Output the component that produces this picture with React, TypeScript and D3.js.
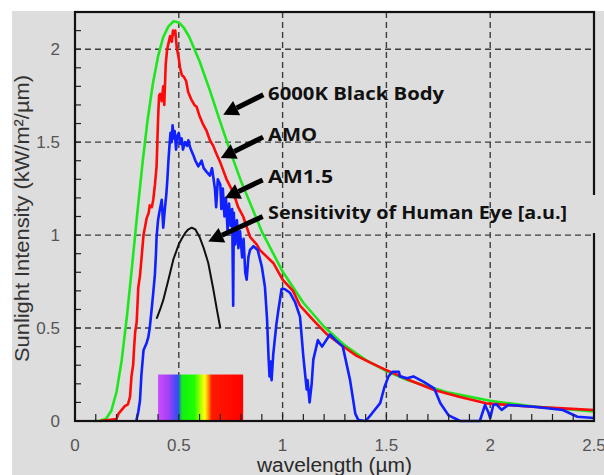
import React from "react";
import * as d3 from "d3";

// ---- data (wavelength in µm, intensity in kW/m²/µm) ----
const blackBody: [number, number][] = [
  [0.09, 0], [0.12, 0.001], [0.15, 0.012], [0.175, 0.055], [0.2, 0.156], [0.225, 0.327],
  [0.25, 0.562], [0.275, 0.835], [0.3, 1.117], [0.325, 1.385], [0.35, 1.622], [0.375, 1.814],
  [0.4, 1.961], [0.425, 2.065], [0.45, 2.123], [0.475, 2.15], [0.5, 2.144], [0.525, 2.114],
  [0.55, 2.067], [0.6, 1.935], [0.65, 1.777], [0.7, 1.608], [0.75, 1.444], [0.8, 1.289],
  [0.9, 1.019], [1.0, 0.804], [1.1, 0.636], [1.2, 0.507], [1.3, 0.4065], [1.4, 0.329],
  [1.5, 0.268], [1.6, 0.2205], [1.8, 0.1525], [2.0, 0.1085], [2.2, 0.079], [2.5, 0.051],
];

const am0: [number, number][] = [
  [0.12, 0], [0.15, 0.004], [0.2, 0.01], [0.21, 0.04], [0.225, 0.06], [0.24, 0.08], [0.255, 0.09],
  [0.265, 0.13], [0.272, 0.24], [0.28, 0.3], [0.285, 0.4], [0.29, 0.48], [0.297, 0.53],
  [0.305, 0.72], [0.313, 0.78], [0.32, 0.87], [0.33, 1.0], [0.34, 1.06], [0.345, 1.09],
  [0.355, 1.12], [0.36, 1.16], [0.37, 1.15], [0.377, 1.19], [0.385, 1.27], [0.393, 1.37],
  [0.4, 1.62], [0.405, 1.75], [0.41, 1.76], [0.418, 1.72], [0.425, 1.8], [0.43, 1.7],
  [0.437, 1.92], [0.444, 2.0], [0.45, 2.03], [0.458, 2.07], [0.466, 2.04], [0.472, 2.1],
  [0.477, 2.08], [0.483, 2.1], [0.49, 2.01], [0.5, 1.95], [0.506, 1.9], [0.515, 1.86],
  [0.525, 1.85], [0.535, 1.83], [0.545, 1.77], [0.56, 1.73], [0.575, 1.7], [0.586, 1.69],
  [0.6, 1.64], [0.615, 1.6], [0.634, 1.56], [0.65, 1.51], [0.666, 1.48], [0.68, 1.44],
  [0.7, 1.39], [0.73, 1.3], [0.762, 1.23], [0.786, 1.15], [0.81, 1.1], [0.843, 0.99],
  [0.875, 0.95], [0.89, 0.92], [0.955, 0.85], [1.0, 0.76], [1.05, 0.7], [1.084, 0.62],
  [1.15, 0.54], [1.21, 0.47], [1.28, 0.41], [1.357, 0.35], [1.43, 0.31], [1.5, 0.274],
  [1.6, 0.225], [1.73, 0.167], [1.85, 0.13], [1.98, 0.095], [2.1, 0.085], [2.2, 0.077],
  [2.35, 0.068], [2.5, 0.059],
];

const am15: [number, number][] = [
  [0.295, 0], [0.305, 0.05], [0.313, 0.11], [0.32, 0.25], [0.33, 0.38], [0.345, 0.42],
  [0.353, 0.45], [0.36, 0.5], [0.37, 0.61], [0.377, 0.69], [0.385, 0.79], [0.39, 0.9],
  [0.393, 0.99], [0.4, 1.08], [0.406, 1.12], [0.418, 1.19], [0.425, 1.04], [0.432, 1.13],
  [0.44, 1.22], [0.445, 1.3], [0.45, 1.4], [0.455, 1.48], [0.46, 1.55], [0.466, 1.5],
  [0.47, 1.59], [0.476, 1.52], [0.48, 1.56], [0.487, 1.46], [0.492, 1.53], [0.5, 1.55],
  [0.507, 1.49], [0.514, 1.52], [0.52, 1.46], [0.53, 1.5], [0.54, 1.48], [0.546, 1.51],
  [0.555, 1.47], [0.57, 1.43], [0.58, 1.4], [0.594, 1.37], [0.61, 1.4], [0.62, 1.36],
  [0.634, 1.34], [0.65, 1.32], [0.66, 1.36], [0.674, 1.25], [0.68, 1.15], [0.688, 1.3],
  [0.7, 1.27], [0.705, 1.14], [0.712, 1.25], [0.72, 1.1], [0.727, 1.2], [0.735, 1.02],
  [0.742, 1.17], [0.75, 1.05], [0.757, 1.14], [0.762, 0.62], [0.765, 1.12], [0.772, 0.95],
  [0.78, 1.08], [0.787, 0.93], [0.795, 1.02], [0.805, 0.88], [0.812, 0.98], [0.82, 0.8],
  [0.827, 0.76], [0.835, 0.88], [0.843, 0.92], [0.86, 0.94], [0.88, 0.92], [0.9, 0.83],
  [0.915, 0.72], [0.925, 0.55], [0.932, 0.35], [0.937, 0.24], [0.942, 0.32], [0.947, 0.22],
  [0.955, 0.36], [0.97, 0.52], [0.98, 0.6], [0.995, 0.71], [1.01, 0.71], [1.035, 0.69],
  [1.06, 0.64], [1.084, 0.56], [1.1, 0.345], [1.116, 0.17], [1.12, 0.22], [1.13, 0.1],
  [1.14, 0.2], [1.148, 0.33], [1.17, 0.435], [1.19, 0.4], [1.228, 0.465], [1.26, 0.43],
  [1.29, 0.4], [1.325, 0.22], [1.35, 0.04], [1.365, 0.005], [1.4, 0], [1.43, 0.04],
  [1.47, 0.096], [1.49, 0.18], [1.51, 0.24], [1.53, 0.265], [1.56, 0.265], [1.565, 0.24],
  [1.6, 0.23], [1.63, 0.24], [1.68, 0.21], [1.73, 0.176], [1.76, 0.095], [1.8, 0.03],
  [1.855, 0], [1.95, 0], [1.975, 0.086], [1.99, 0.05], [2.0, 0.015], [2.015, 0.086],
  [2.03, 0.09], [2.055, 0.06], [2.087, 0.086], [2.21, 0.077], [2.35, 0.059], [2.42, 0.023],
  [2.5, 0.016],
];

const eyeSensitivity: [number, number][] = [
  [0.393, 0.55], [0.41, 0.6], [0.425, 0.65], [0.45, 0.76], [0.474, 0.87], [0.5, 0.95],
  [0.514, 0.98], [0.53, 1.01], [0.545, 1.03], [0.562, 1.04], [0.58, 1.03], [0.6, 0.99],
  [0.62, 0.93], [0.642, 0.85], [0.666, 0.71], [0.685, 0.59], [0.7, 0.5],
];

const xTicks = [0, 0.5, 1, 1.5, 2, 2.5];
const xTickLabels = ["0", "0.5", "1", "1.5", "2", "2.5"];
const yTicks = [0, 0.5, 1, 1.5, 2];
const yTickLabels = ["0", "0.5", "1", "1.5", "2"];
const xMinor = d3.range(1, 25).map((i) => i / 10);
const yMinor = d3.range(1, 22).map((i) => i / 10);

// visible spectrum band: wavelength range and height
const spectrumBand = [0.4, 0.81];
const spectrumHeight = 0.25;

// annotations: label, text anchor (data units), arrow tail & tip (data units)
const annoLabels = ["6000K Black Body", "AMO", "AM1.5", "Sensitivity of Human Eye [a.u.]"];
const annoTextPos: [number, number][] = [[0.93, 1.728], [0.93, 1.504], [0.93, 1.279], [0.93, 1.085]];
const annoTextWidth = [176, 49, 65, 299];
const annoTail: [number, number][] = [[0.907, 1.755], [0.906, 1.527], [0.904, 1.297], [0.904, 1.1]];
const annoTip: [number, number][] = [[0.714, 1.647], [0.702, 1.414], [0.7225, 1.199], [0.642, 0.965]];

export default function App() {
  const W = 604, H = 475;
  const L = 75, R = 594, T = 12, B = 421;
  const x = d3.scaleLinear().domain([0, 2.5]).range([L, R]);
  const y = d3.scaleLinear().domain([0, 2.2]).range([B, T]);
  const line = d3.line<[number, number]>().x((d) => x(d[0])).y((d) => y(d[1]));

  const gridColor = "#3c3c3c";
  const arrows = annoTail.map((tail, i) => {
    const tip = annoTip[i];
    const x1 = x(tail[0]), y1 = y(tail[1]);
    const x2 = x(tip[0]), y2 = y(tip[1]);
    const ang = Math.atan2(y2 - y1, x2 - x1);
    const hl = 15, hw = 8;
    const bx = x2 - hl * Math.cos(ang), by = y2 - hl * Math.sin(ang);
    const px = -Math.sin(ang), py = Math.cos(ang);
    const head = `M${x2},${y2} L${bx + hw * px},${by + hw * py} L${bx - hw * px},${by - hw * py} Z`;
    return { x1, y1, bx, by, head };
  });

  return (
    <div style={{ position: "absolute", left: 0, top: 0 }}>
      <svg width={W} height={H} style={{ display: "block", background: "#fff" }}>
        <defs>
          <linearGradient id="spec" x1="0" x2="1" y1="0" y2="0">
            <stop offset="0%" stopColor="#cc4cff" />
            <stop offset="12%" stopColor="#a640f5" />
            <stop offset="19%" stopColor="#5a48f8" />
            <stop offset="24%" stopColor="#3050f0" />
            <stop offset="28%" stopColor="#10f010" />
            <stop offset="43%" stopColor="#20ff00" />
            <stop offset="50%" stopColor="#b0ff00" />
            <stop offset="55%" stopColor="#ffff10" />
            <stop offset="59%" stopColor="#ff9a00" />
            <stop offset="63%" stopColor="#ff1a00" />
            <stop offset="100%" stopColor="#ff0000" />
          </linearGradient>
        </defs>
        <rect x={12} y={11} width={W - 12} height={H - 11} fill="#dddddd" />

        {/* grid */}
        {xTicks.slice(1, -1).map((t) => (
          <line key={"gx" + t} x1={x(t)} x2={x(t)} y1={T} y2={B} stroke={gridColor} strokeWidth={1.4} strokeDasharray="6,4" />
        ))}
        {yTicks.slice(1).map((t) => (
          <line key={"gy" + t} x1={L} x2={R} y1={y(t)} y2={y(t)} stroke={gridColor} strokeWidth={1.4} strokeDasharray="6,4" />
        ))}

        {/* visible spectrum band */}
        <rect x={x(spectrumBand[0])} y={y(spectrumHeight)} width={x(spectrumBand[1]) - x(spectrumBand[0])}
          height={y(0) - y(spectrumHeight)} fill="url(#spec)" />

        {/* curves */}
        <path d={line(blackBody) || ""} fill="none" stroke="#1ee61e" strokeWidth={2.6} strokeLinejoin="round" />
        <path d={line(am0) || ""} fill="none" stroke="#ff0a0a" strokeWidth={2.6} strokeLinejoin="round" />
        <path d={line(am15) || ""} fill="none" stroke="#1020ff" strokeWidth={2.6} strokeLinejoin="round" />
        <path d={line(eyeSensitivity) || ""} fill="none" stroke="#111" strokeWidth={2} strokeLinejoin="round" />

        {/* minor ticks */}
        {xMinor.map((t) => (
          <line key={"mx" + t} x1={x(t)} x2={x(t)} y1={B} y2={B - 7} stroke="#222" strokeWidth={1.2} />
        ))}
        {yMinor.map((t) => (
          <line key={"my" + t} x1={L} x2={L + 6} y1={y(t)} y2={y(t)} stroke="#222" strokeWidth={1.2} />
        ))}

        {/* frame */}
        <rect x={L} y={T} width={R - L} height={B - T} fill="none" stroke="#111" strokeWidth={2.2} />
        {/* label box patch covering frame */}
        <rect x={R - 4} y={195} width={8} height={38} fill="#dddddd" />

        {/* tick labels */}
        {xTicks.map((t, i) => (
          <text key={"xl" + t} x={x(t)} y={451} textAnchor="middle" fontFamily="'Liberation Sans', Arial, sans-serif"
            fontSize={17} fill="#555">{xTickLabels[i]}</text>
        ))}
        {yTicks.map((t, i) => (
          <text key={"yl" + t} x={60} y={y(t) + 6} textAnchor="end" fontFamily="'Liberation Sans', Arial, sans-serif"
            fontSize={17} fill="#555">{yTickLabels[i]}</text>
        ))}

        {/* axis titles */}
        <text x={334.5} y={472} textAnchor="middle" fontFamily="'Liberation Sans', Arial, sans-serif" fontSize={20}
          fill="#2a2a2a" textLength={155} lengthAdjust="spacingAndGlyphs">wavelength (µm)</text>
        <text transform="translate(29,218.5) rotate(-90)" textAnchor="middle" fontFamily="'Liberation Sans', Arial, sans-serif"
          fontSize={20} fill="#333" textLength={287} lengthAdjust="spacingAndGlyphs">Sunlight Intensity (kW/m²/µm)</text>

        {/* annotations */}
        {annoLabels.map((lab, i) => (
          <text key={"al" + i} x={x(annoTextPos[i][0])} y={y(annoTextPos[i][1])} fontFamily="'Open Sans', sans-serif"
            fontWeight={700} fontSize={18} fill="#111" textLength={annoTextWidth[i]} lengthAdjust="spacingAndGlyphs">{lab}</text>
        ))}
        {arrows.map((a, i) => (
          <g key={"ar" + i}>
            <line x1={a.x1} y1={a.y1} x2={a.bx} y2={a.by} stroke="#000" strokeWidth={5} />
            <path d={a.head} fill="#000" />
          </g>
        ))}
      </svg>
    </div>
  );
}
